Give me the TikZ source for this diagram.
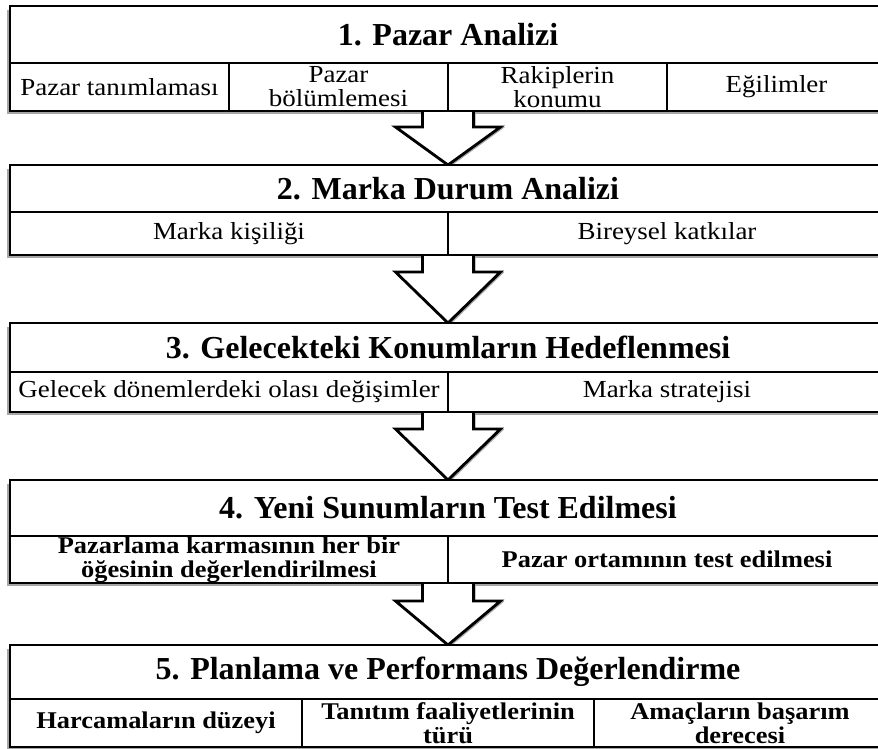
\documentclass[tikz,border=0pt]{standalone}
\usepackage{fontspec}
\setmainfont{Liberation Serif}
\newfontfamily\widefam{Liberation Serif}[FakeStretch=1.1]
\usetikzlibrary{calc,fit,backgrounds}

\newcommand\hdfont{\fontsize{32}{34}\selectfont\bfseries}
\newcommand\cellfont{\widefam\fontsize{24.5}{24}\selectfont}
\newcommand\cellbold{\widefam\fontsize{24}{24}\selectfont\bfseries}

\tikzset{
  boxline/.style={draw=black, line width=2.6pt},
  head/.style={boxline, fill=white, inner sep=0pt, outer sep=0pt,
    minimum width=876pt, align=center, font=\hdfont},
  cell/.style={boxline, fill=white, inner sep=0pt, outer sep=0pt,
    align=center, font=\cellfont},
  boldcell/.style={cell, font=\cellbold},
  frame/.style={boxline, inner sep=0pt, outer sep=0pt},
  shadowline/.style={draw=black!35, line width=1.4pt},
  arrowbody/.style={draw=black, line width=2.8pt, fill=white, line join=miter,
    preaction={draw=black!35, line width=2pt,
      transform canvas={shift={(1.2pt,-1.2pt)}}}},
}

\begin{document}
\begin{tikzpicture}[x=1pt,y=-1pt]
\useasboundingbox (0,0) rectangle (878,749);

% ---- Block 1: market analysis
\node[head, minimum height=57pt] (t1) at (448,34.5) {1. Pazar Analizi};
\node[cell, minimum width=219pt, minimum height=48pt] (c11) at (119.5,87) {Pazar tanımlaması};
\node[cell, minimum width=219pt, minimum height=48pt] (c12) at (338.5,87) {Pazar\\bölümlemesi};
\node[cell, minimum width=219pt, minimum height=48pt] (c13) at (557.5,87) {Rakiplerin\\konumu};
\node[cell, minimum width=219pt, minimum height=48pt] (c14) at (776.5,87) {Eğilimler};
\node[frame, fit=(t1)(c11)(c14)] (b1) {};

% ---- Block 2: brand position
\node[head, minimum height=47pt] (t2) at (448,188.5) {2. Marka Durum Analizi};
\node[cell, minimum width=438pt, minimum height=43pt] (c21) at (229,233.5) {Marka kişiliği};
\node[cell, minimum width=438pt, minimum height=43pt] (c22) at (667,233.5) {Bireysel katkılar};
\node[frame, fit=(t2)(c21)(c22)] (b2) {};

% ---- Block 3: future targets
\node[head, minimum height=49pt] (t3) at (448,347.5) {3. Gelecekteki Konumların Hedeflenmesi};
\node[cell, minimum width=438pt, minimum height=40pt] (c31) at (229,392) {Gelecek dönemlerdeki olası değişimler};
\node[cell, minimum width=438pt, minimum height=40pt] (c32) at (667,392) {Marka stratejisi};
\node[frame, fit=(t3)(c31)(c32)] (b3) {};

% ---- Block 4: testing
\node[head, minimum height=56pt] (t4) at (448,508) {4. Yeni Sunumların Test Edilmesi};
\node[boldcell, minimum width=438pt, minimum height=47pt] (c41) at (229,559.5) {Pazarlama karmasının her bir\\öğesinin değerlendirilmesi};
\node[boldcell, minimum width=438pt, minimum height=47pt] (c42) at (667,559.5) {Pazar ortamının test edilmesi};
\node[frame, fit=(t4)(c41)(c42)] (b4) {};

% ---- Block 5: planning
\node[head, minimum height=54pt] (t5) at (448,672) {5. Planlama ve Performans Değerlendirme};
\node[boldcell, minimum width=292pt, minimum height=48pt] (c51) at (156,723) {Harcamaların düzeyi};
\node[boldcell, minimum width=292pt, minimum height=48pt] (c52) at (448,723) {Tanıtım faaliyetlerinin\\türü};
\node[boldcell, minimum width=292pt, minimum height=48pt] (c53) at (740,723) {Amaçların başarım\\derecesi};
\node[frame, fit=(t5)(c51)(c53)] (b5) {};

% ---- block arrows between the stages
\begin{scope}[on background layer]
  \fill[white] (0,0) rectangle (878,749);
  \foreach \b in {b1,b2,b3,b4,b5}
    \draw[shadowline] ($(\b.north west)+(-2,4)$) |- ($(\b.south east)+(0,2)$);
  \draw[arrowbody] let \p1=(b1.south), \p2=(b2.north) in
    (\x1-25.5pt,\y1) -- (\x1-25.5pt,\y1-16pt) -- (\x1-52.5pt,\y1-16pt) -- (\x1,\y2)
    -- (\x1+52.5pt,\y1-16pt) -- (\x1+25.5pt,\y1-16pt) -- (\x1+25.5pt,\y1);
  \draw[arrowbody] let \p1=(b2.south), \p2=(b3.north) in
    (\x1-25.5pt,\y1) -- (\x1-25.5pt,\y1-17pt) -- (\x1-52.5pt,\y1-17pt) -- (\x1,\y2)
    -- (\x1+52.5pt,\y1-17pt) -- (\x1+25.5pt,\y1-17pt) -- (\x1+25.5pt,\y1);
  \draw[arrowbody] let \p1=(b3.south), \p2=(b4.north) in
    (\x1-25.5pt,\y1) -- (\x1-25.5pt,\y1-17pt) -- (\x1-52.5pt,\y1-17pt) -- (\x1,\y2)
    -- (\x1+52.5pt,\y1-17pt) -- (\x1+25.5pt,\y1-17pt) -- (\x1+25.5pt,\y1);
  \draw[arrowbody] let \p1=(b4.south), \p2=(b5.north) in
    (\x1-25.5pt,\y1) -- (\x1-25.5pt,\y1-18pt) -- (\x1-52.5pt,\y1-18pt) -- (\x1,\y2)
    -- (\x1+52.5pt,\y1-18pt) -- (\x1+25.5pt,\y1-18pt) -- (\x1+25.5pt,\y1);
\end{scope}
\end{tikzpicture}
\end{document}
